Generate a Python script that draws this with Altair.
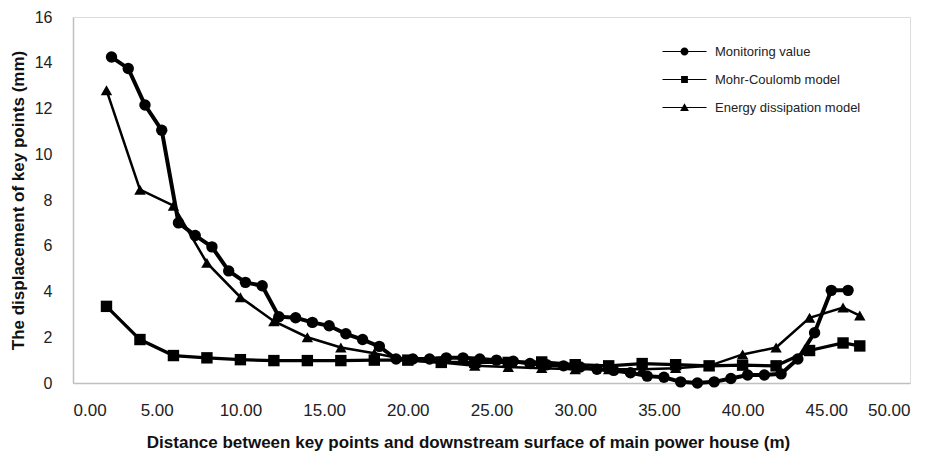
import altair as alt
import pandas as pd

# ---- data ----
mon_x = [2.3, 3.3, 4.3, 5.3, 6.3, 7.3, 8.3, 9.3, 10.3, 11.3, 12.3, 13.3, 14.3, 15.3, 16.3,
         17.3, 18.3, 19.3, 20.3, 21.3, 22.3, 23.3, 24.3, 25.3, 26.3, 27.3, 28.3, 29.3, 30.3,
         31.3, 32.3, 33.3, 34.3, 35.3, 36.3, 37.3, 38.3, 39.3, 40.3, 41.3, 42.3, 43.3, 44.3,
         45.3, 46.3]
mon_y = [14.25, 13.75, 12.15, 11.05, 7.0, 6.45, 5.95, 4.9, 4.4, 4.25, 2.9, 2.85, 2.65, 2.5, 2.15,
         1.9, 1.6, 1.05, 1.05, 1.05, 1.1, 1.1, 1.05, 1.0, 0.95, 0.85, 0.8, 0.75, 0.7,
         0.6, 0.55, 0.45, 0.3, 0.25, 0.05, 0.0, 0.05, 0.2, 0.35, 0.35, 0.4, 1.05, 2.2,
         4.05, 4.05]

mc_x = [2, 4, 6, 8, 10, 12, 14, 16, 18, 20, 22, 24, 26, 28, 30, 32, 34, 36, 38, 40, 42, 44, 46, 47]
mc_y = [3.35, 1.9, 1.2, 1.1, 1.02, 0.98, 0.98, 0.98, 1.0, 1.0, 0.9, 0.9, 0.9, 0.92, 0.8, 0.75,
        0.85, 0.8, 0.75, 0.78, 0.75, 1.42, 1.75, 1.62]

ed_x = [2, 4, 6, 8, 10, 12, 14, 16, 18, 20, 22, 24, 26, 28, 30, 32, 34, 36, 38, 40, 42, 44, 46, 47]
ed_y = [12.8, 8.45, 7.75, 5.25, 3.75, 2.7, 2.0, 1.55, 1.3, 1.0, 0.9, 0.75, 0.7, 0.65, 0.6, 0.6,
        0.6, 0.65, 0.75, 1.25, 1.55, 2.85, 3.3, 2.95]

series_names = ["Monitoring value", "Mohr-Coulomb model", "Energy dissipation model"]
x_ticks = [0, 5, 10, 15, 20, 25, 30, 35, 40, 45, 50]
y_ticks = [0, 2, 4, 6, 8, 10, 12, 14, 16]

rows = []
for name, xs, ys in zip(series_names, [mon_x, mc_x, ed_x], [mon_y, mc_y, ed_y]):
    for xv, yv in zip(xs, ys):
        rows.append({"series": name, "x": xv, "y": yv})
df = pd.DataFrame(rows)

FONT = "Liberation Sans"

x_enc = alt.X("x:Q", scale=alt.Scale(domain=[0, 50], nice=False),
              axis=alt.Axis(values=x_ticks, format=".2f", grid=False, ticks=False,
                            domainColor="#c0c0c0", domainWidth=1.5, labelPadding=19,
                            labelFontSize=17, labelColor="#222222",
                            title="Distance between key points and downstream surface of main power house (m)",
                            titleFontSize=17, titleFontWeight="bold",
                            titleX=395, titleY=59, titleBaseline="middle",
                            titleColor="#111111"))
y_enc = alt.Y("y:Q", scale=alt.Scale(domain=[0, 16], nice=False),
              axis=alt.Axis(values=y_ticks, format="d", grid=False, ticks=False,
                            domainColor="#c0c0c0", domainWidth=1.5, labelPadding=21,
                            labelFontSize=16, labelColor="#222222",
                            title="The displacement of key points (mm)",
                            titleFontSize=17, titleFontWeight="bold",
                            titleX=-55, titleY=183, titleBaseline="middle",
                            titleColor="#111111"))

lines = alt.Chart(df).mark_line(color="black").encode(
    x=x_enc, y=y_enc,
    detail="series:N",
    order="x:Q",
    strokeWidth=alt.StrokeWidth("series:N",
                                scale=alt.Scale(domain=series_names, range=[4, 2.5, 2.5]),
                                legend=None),
)

points = alt.Chart(df).mark_point(filled=True, color="black", opacity=1, size=130).encode(
    x="x:Q", y="y:Q",
    shape=alt.Shape("series:N",
                    scale=alt.Scale(domain=series_names,
                                    range=["circle", "square", "triangle-up"]),
                    legend=None),
)

# legend-only layer: symbol = short bar (line) with the series marker, all filled
legend_paths = [
    "M-5.5,-0.13H5.5V0.13H-5.5ZM1,0A1,1,0,1,1,-1,0A1,1,0,1,1,1,0Z",
    "M-5.5,-0.13H5.5V0.13H-5.5ZM-0.85,-0.85H0.85V0.85H-0.85Z",
    "M-5.5,-0.13H5.5V0.13H-5.5ZM0,-1.05L1.1,0.85H-1.1Z",
]
legend_layer = alt.Chart(df).transform_filter("false").mark_point(
    filled=True, color="black", opacity=1
).encode(
    x="x:Q", y="y:Q",
    shape=alt.Shape("series:N",
                    scale=alt.Scale(domain=series_names, range=legend_paths),
                    legend=alt.Legend(
                        title=None, orient="none", legendX=605, legendY=28,
                        symbolSize=64, symbolFillColor="black", symbolStrokeWidth=0,
                        symbolOpacity=1, labelOffset=24, rowPadding=14,
                        labelFontSize=13, labelColor="#222222", labelFont=FONT)),
)

chart = (lines + points + legend_layer).resolve_scale(shape="independent").properties(
    width=837, height=366,
    autosize=alt.AutoSizeParams(type="none"),
    padding={"left": 65, "top": 9, "right": 18, "bottom": 73},
).configure_view(stroke=None).configure(font=FONT, background="white")

chart.save("out.html", embed_options={"renderer": "svg", "actions": False})
